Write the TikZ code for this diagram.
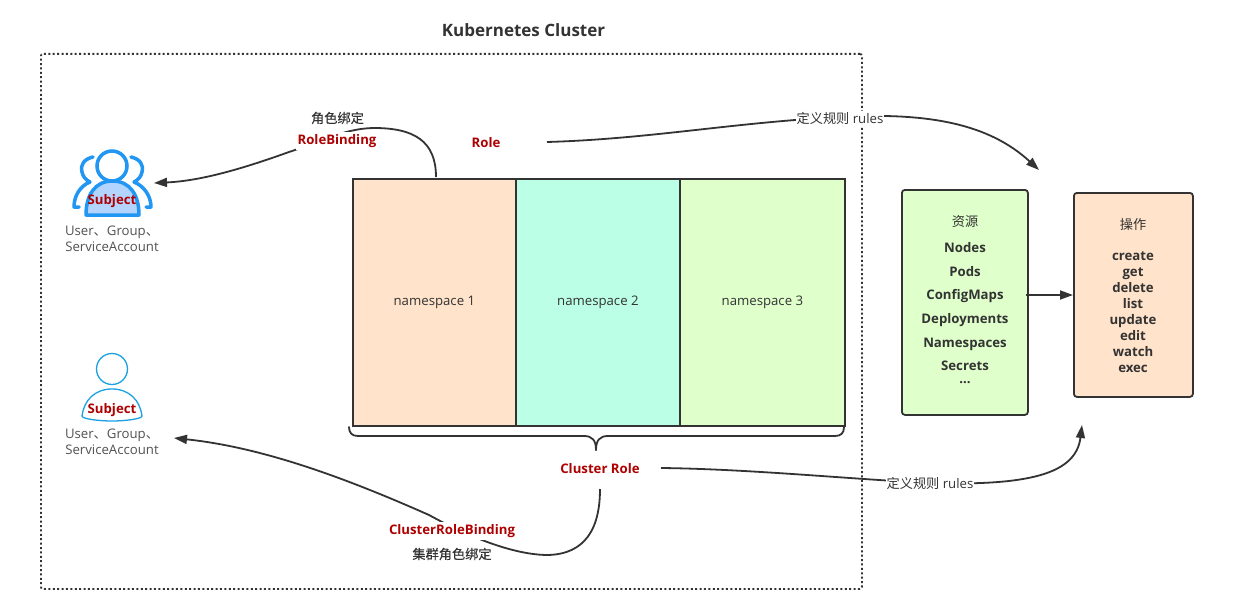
\documentclass[tikz,border=0pt]{standalone}
\usepackage{fontspec}
\setmainfont{Open Sans}
\newfontfamily\cjk{Noto Sans CJK SC}
\newfontfamily\cjkm[FakeBold=0.35]{Noto Sans CJK SC}
\usetikzlibrary{arrows.meta}
\definecolor{ink}{HTML}{333333}
\definecolor{dkred}{HTML}{AE0000}
\definecolor{peach}{HTML}{FFE3CA}
\definecolor{mint}{HTML}{BBFFE6}
\definecolor{lime}{HTML}{DFFFCB}
\definecolor{iconblue}{HTML}{2196F3}
\definecolor{iconfill}{HTML}{B3D4FF}
\definecolor{usrblue}{HTML}{1BA1E2}
\newcommand{\zh}[1]{{\cjk #1}}
\newcommand{\zhm}[1]{{\cjkm #1}}
\newcommand{\nslabel}[1]{\raisebox{-1.6pt}{#1}}
\tikzset{
  x=1pt,y=-1pt,
  conn/.style={draw=ink,line width=1.8pt,-{Triangle[length=13pt,width=9pt]}},
  plainconn/.style={draw=ink,line width=1.8pt},
  nsbox/.style={draw=ink,line width=1.8pt,anchor=north west,inner sep=0pt,text=ink,font=\fontsize{13.2}{15}\selectfont},
  card/.style={draw=ink,line width=1.8pt,rounded corners=3pt,anchor=north west,inner sep=0pt},
  txt/.style={text=ink,font=\fontsize{13.2}{16}\selectfont,inner sep=1pt,align=center,yshift=-2pt},
  bold/.style={text=ink,font=\fontsize{13.2}{16}\selectfont\bfseries,inner sep=1pt,align=center,yshift=-2pt},
  redbold/.style={text=dkred,font=\fontsize{13.2}{16}\selectfont\bfseries,inner sep=2pt,fill=white,yshift=-2pt},
  redover/.style={text=dkred,font=\fontsize{13.2}{16}\selectfont\bfseries,inner sep=0pt,yshift=-2pt},
  lab/.style={text=ink,font=\fontsize{13.2}{16}\selectfont,inner sep=1pt,fill=white,yshift=-1.5pt},
}
\begin{document}
\begin{tikzpicture}
\useasboundingbox (1,1) rectangle (1252,616);
\fill[white] (1,1) rectangle (1252,616);
% frame
\node[draw=ink,line width=1.8pt,dash pattern=on 2pt off 2.4pt,rounded corners=2pt,anchor=north west,minimum width=821pt,minimum height=535pt,inner sep=0pt] (frame) at (41,54) {};
\node[text=ink,font=\fontsize{17}{20}\selectfont\bfseries,inner sep=0pt] (title) at (524.5,31) {Kubernetes Cluster};
% namespaces
\node[nsbox,fill=peach,minimum width=163pt,minimum height=247pt] (ns1) at (353,179) {\nslabel{namespace 1}};
\node[nsbox,fill=mint,minimum width=164pt,minimum height=247pt] (ns2) at (516,179) {\nslabel{namespace 2}};
\node[nsbox,fill=lime,minimum width=165pt,minimum height=247pt] (ns3) at (680,179) {\nslabel{namespace 3}};
% resource and operation boxes
\node[card,fill=lime,minimum width=126pt,minimum height=225pt] (res) at (902,190) {};
\node[card,fill=peach,minimum width=119pt,minimum height=204pt] (ops) at (1074,193) {};
\node[txt] (restitle) at (966,221) {\zh{资源}};
\node[bold] (r1) at (966,247) {Nodes};
\node[bold] (r2) at (966,271) {Pods};
\node[bold] (r3) at (966,295) {ConfigMaps};
\node[bold] (r4) at (966,319) {Deployments};
\node[bold] (r5) at (966,343) {Namespaces};
\node[bold] (r6) at (966,365) {Secrets};
\node[bold] (r7) at (966,382) {...};
\node[txt] (opstitle) at (1134,223) {\zh{操作}};
\node[bold] (oplist) at (1134,311) {create\\get\\delete\\list\\update\\edit\\watch\\exec};
% coordinates for free connector ends
\coordinate (roleout) at (548,143);
\coordinate (roleend) at (1040,171);
\coordinate (crout) at (662,469);
\coordinate (crend) at (1083,426);
\coordinate (nstop) at (437,178);
\coordinate (crdown) at (601,490);
\coordinate (subj1) at (155,184);
\coordinate (subj2) at (175,439);
\coordinate (resout) at (1027,296);
\coordinate (opsin) at (1074,296);
% connectors
\draw[conn] (roleout) .. controls (650,140) and (730,124) .. (840,118) .. controls (930,113) and (990,125) .. (roleend);
\draw[conn] (crout) .. controls (750,470) and (850,480) .. (930,484) .. controls (1030,487) and (1077,475) .. (crend);
\draw[conn] (nstop) .. controls (437,142) and (415,129) .. (375,129) .. controls (345,129) and (310,147) .. (290,153) .. controls (240,171) and (200,182) .. (subj1);
\draw[conn] (crdown) .. controls (601,530) and (586,555) .. (549,556) .. controls (515,556) and (470,538) .. (430,516) .. controls (340,476) and (260,448) .. (subj2);
\draw[conn] (resout) -- (opsin);
% brace
\draw[plainconn,line cap=round] (350,428) .. controls (350,434) and (353,437) .. (359,437) -- (585,437) .. controls (593,437) and (597,441) .. (597,451);
\draw[plainconn,line cap=round] (845,428) .. controls (845,434) and (842,437) .. (836,437) -- (609,437) .. controls (601,437) and (597,441) .. (597,451);
% labels
\node[txt] (rb1) at (338.5,117) {\zhm{角色绑定}};
\node[redbold] (rb2) at (338,140) {RoleBinding};
\node[redbold] (role) at (487,142) {Role};
\node[lab] (rules1) at (841,118) {\zh{定义规则} rules};
\node[lab] (rules2) at (931,483) {\zh{定义规则} rules};
\node[redbold] (crole) at (601,468) {Cluster Role};
\node[redbold] (crb) at (453,530) {ClusterRoleBinding};
\node[txt] (crb2) at (453,553) {\zhm{集群角色绑定}};
% group icon
\draw[iconblue,line width=3.5pt,line cap=round,line join=round] (94,158) .. controls (85,160) and (81,166) .. (83,173) .. controls (84,178) and (87,181) .. (91,183) .. controls (81,187) and (75,197) .. (75,208) -- (80,208);
\draw[iconblue,line width=3.5pt,line cap=round,line join=round] (132,158) .. controls (141,160) and (145,166) .. (143,173) .. controls (142,178) and (139,181) .. (135,183) .. controls (145,187) and (152,197) .. (152,208) -- (147,208);
\draw[iconblue,line width=3.5pt,fill=iconfill,line join=round] (87,216) .. controls (87,196) and (96,182) .. (113.5,182) .. controls (131,182) and (140,196) .. (140,216) -- cycle;
\draw[iconblue,line width=3.5pt,fill=white] (113,167) circle (15);
\node[redover] (subject1) at (113,200) {Subject};
\node[txt,text=ink!85] (sub1cap) at (113,238) {User\zh{、}Group\zh{、}\\ServiceAccount};
% user icon
\draw[usrblue,line width=1.3pt,fill=white] (113,370) circle (15.5);
\draw[usrblue,line width=1.3pt,fill=white] (83,417) .. controls (85,401) and (96,390) .. (113,390) .. controls (130,390) and (141,401) .. (143,417) .. controls (143,420) and (126,422) .. (113,422) .. controls (100,422) and (83,420) .. (83,417) -- cycle;
\node[redover] (subject2) at (113,409) {Subject};
\node[txt,text=ink!85] (sub2cap) at (113,441) {User\zh{、}Group\zh{、}\\ServiceAccount};
\end{tikzpicture}
\end{document}
